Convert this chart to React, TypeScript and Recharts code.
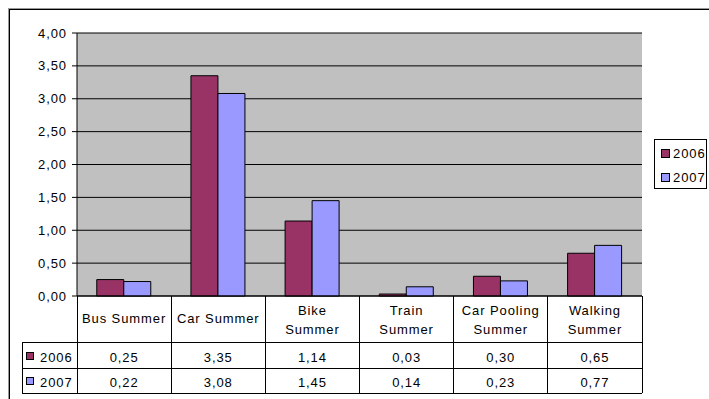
import React from 'react';
import { BarChart, Bar, XAxis, YAxis, CartesianGrid, Legend } from 'recharts';

// Commute modes (summer) compared over two years
const categories = [
  'Bus Summer',
  'Car Summer',
  'Bike Summer',
  'Train Summer',
  'Car Pooling Summer',
  'Walking Summer',
];
// Header text of the data table, as it wraps inside each column
const headerLines = [
  ['Bus Summer'],
  ['Car Summer'],
  ['Bike', 'Summer'],
  ['Train', 'Summer'],
  ['Car Pooling', 'Summer'],
  ['Walking', 'Summer'],
];
const values2006 = [0.25, 3.35, 1.14, 0.03, 0.3, 0.65];
const values2007 = [0.22, 3.08, 1.45, 0.14, 0.23, 0.77];
const seriesNames = ['2006', '2007'];
const yTicks = [0, 0.5, 1, 1.5, 2, 2.5, 3, 3.5, 4];

const seriesColors: Record<string, string> = { '2006': '#993366', '2007': '#9999FF' };
const seriesValues: Record<string, number[]> = { '2006': values2006, '2007': values2007 };

const data = categories.map((category, i) => ({
  category,
  '2006': values2006[i],
  '2007': values2007[i],
}));

const FONT = '"Liberation Sans", Arial, sans-serif';
const fmt = (v: number) => v.toFixed(2).replace('.', ',');

// Row geometry of the data table below the plot (relative to the axis line)
const HEADER_BOTTOM = 46;
const ROW1_BOTTOM = 72;
const ROW2_BOTTOM = 97;
const KEY_COLUMN_LEFT = 14;

const TableTick = (props: any) => {
  const { x, y, payload, visibleTicksCount, width } = props;
  const idx = categories.indexOf(payload.value);
  const half =
    payload && typeof payload.offset === 'number' && payload.offset > 0
      ? payload.offset
      : width / visibleTicksCount / 2;
  const left = x - half;
  const right = x + half;
  const lines = headerLines[idx] || [payload.value];
  const rowBottoms = [HEADER_BOTTOM, ROW1_BOTTOM, ROW2_BOTTOM];
  const rowBaselines = [66, 90.5];
  const textStyle = { fontSize: 13, letterSpacing: 0.9, fill: '#000' } as const;

  return (
    <g fontFamily={FONT}>
      {/* cell borders */}
      <line x1={left} x2={left} y1={y} y2={y + ROW2_BOTTOM} stroke="#000" shapeRendering="crispEdges" />
      {idx === categories.length - 1 && (
        <line x1={right} x2={right} y1={y} y2={y + ROW2_BOTTOM} stroke="#000" shapeRendering="crispEdges" />
      )}
      {rowBottoms.map((rb) => (
        <line key={rb} x1={left} x2={right} y1={y + rb} y2={y + rb} stroke="#000" shapeRendering="crispEdges" />
      ))}

      {/* header */}
      {lines.length === 1 ? (
        <text x={x} y={y + 27} textAnchor="middle" style={textStyle}>
          {lines[0]}
        </text>
      ) : (
        lines.map((ln, k) => (
          <text key={k} x={x} y={y + 18.5 + k * 19} textAnchor="middle" style={textStyle}>
            {ln}
          </text>
        ))
      )}

      {/* values */}
      {seriesNames.map((s, r) => (
        <text key={s} x={x} y={y + rowBaselines[r]} textAnchor="middle" style={textStyle}>
          {fmt(seriesValues[s][idx])}
        </text>
      ))}

      {/* series key column at the left of the table */}
      {idx === 0 && (
        <g>
          <line x1={KEY_COLUMN_LEFT} x2={KEY_COLUMN_LEFT} y1={y + HEADER_BOTTOM} y2={y + ROW2_BOTTOM} stroke="#000" shapeRendering="crispEdges" />
          {rowBottoms.map((rb) => (
            <line key={rb} x1={KEY_COLUMN_LEFT} x2={left} y1={y + rb} y2={y + rb} stroke="#000" shapeRendering="crispEdges" />
          ))}
          {seriesNames.map((s, r) => (
            <g key={s}>
              <rect
                x={18.5}
                y={y + rowBaselines[r] - 9.5}
                width={7}
                height={7}
                fill={seriesColors[s]}
                stroke="#000"
                shapeRendering="crispEdges"
              />
              <text x={32} y={y + rowBaselines[r]} textAnchor="start" style={textStyle}>
                {s}
              </text>
            </g>
          ))}
        </g>
      )}
    </g>
  );
};

const LegendBox = (props: any) => {
  const items = props.payload || [];
  return (
    <div
      style={{
        position: 'relative',
        width: 53,
        height: 50,
        boxSizing: 'border-box',
        border: '1px solid #000',
        background: '#fff',
        fontFamily: FONT,
        fontSize: 13,
        letterSpacing: 0.9,
      }}
    >
      {items.map((item: any, i: number) => (
        <div
          key={item.value}
          style={{
            position: 'absolute',
            left: 6,
            top: 5 + i * 24,
            height: 16,
            display: 'flex',
            alignItems: 'center',
            whiteSpace: 'nowrap',
          }}
        >
          <span
            style={{
              display: 'inline-block',
              width: 7,
              height: 7,
              background: item.color,
              border: '1px solid #000',
              marginRight: 3,
            }}
          />
          <span>{item.value}</span>
        </div>
      ))}
    </div>
  );
};

export default function App() {
  return (
    <div
      style={{
        position: 'absolute',
        left: 8,
        top: 8,
        width: 701,
        height: 391,
        overflow: 'hidden',
        fontFamily: FONT,
      }}
    >
      <BarChart
        width={701}
        height={391}
        data={data}
        margin={{ top: 25, right: 67, bottom: 3, left: 0 }}
        barCategoryGap="21%"
        barGap={0}
      >
        <CartesianGrid vertical={false} stroke="#000" fill="#C0C0C0" />
        <XAxis
          dataKey="category"
          height={100}
          interval={0}
          tickSize={0}
          tickMargin={0}
          tickLine={false}
          axisLine={{ stroke: '#000' }}
          tick={<TableTick />}
        />
        <YAxis
          width={69}
          domain={[0, 4]}
          ticks={yTicks}
          interval={0}
          tickFormatter={fmt}
          tickSize={5}
          tickMargin={5}
          tickLine={{ stroke: '#000' }}
          axisLine={{ stroke: '#000' }}
          tick={{ fill: '#000', fontSize: 13, letterSpacing: 0.9, fontFamily: FONT }}
        />
        <YAxis
          yAxisId="frame"
          orientation="right"
          width={0}
          tick={false}
          tickLine={false}
          axisLine={{ stroke: '#808080' }}
        />
        <Legend
          layout="horizontal"
          verticalAlign="middle"
          align="center"
          content={<LegendBox />}
          wrapperStyle={{ left: 646, top: 131, width: 53, height: 50 }}
        />
        {seriesNames.map((s) => (
          <Bar
            key={s}
            dataKey={s}
            name={s}
            fill={seriesColors[s]}
            stroke="#000"
            strokeWidth={1}
            isAnimationActive={false}
          />
        ))}
      </BarChart>
      {/* outer chart frame */}
      <div
        style={{
          position: 'absolute',
          left: 1,
          top: 1,
          width: 900,
          height: 900,
          border: '1px solid #000',
          boxShadow: '-1px -1px 0 #9a9a9a',
          pointerEvents: 'none',
        }}
      />
    </div>
  );
}
